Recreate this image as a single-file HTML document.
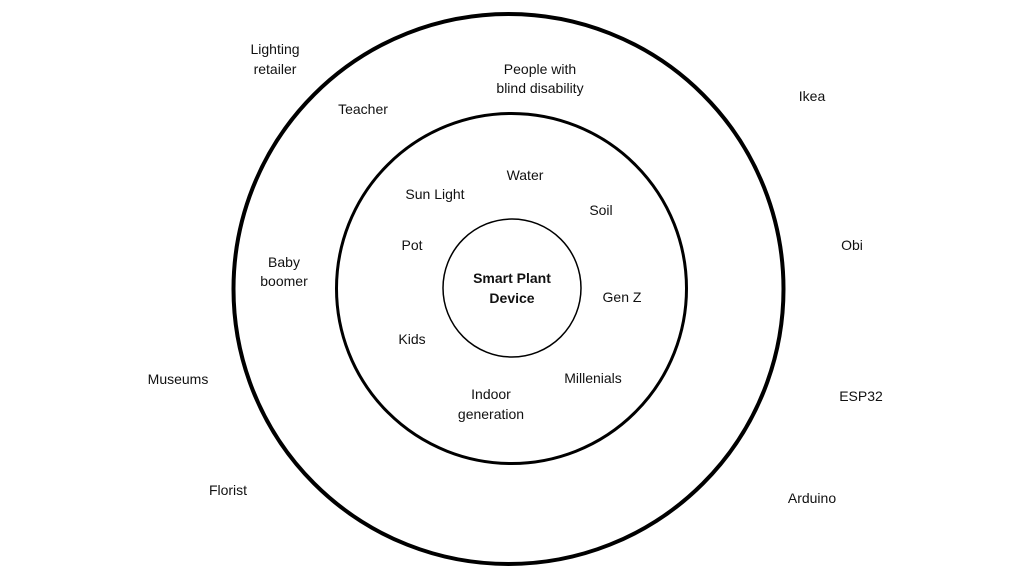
<!DOCTYPE html>
<html><head><meta charset="utf-8"><style>
html,body{margin:0;padding:0;background:#fff;}
svg{display:block;}
text{font-family:"Liberation Sans",sans-serif;font-size:14px;fill:#111;text-anchor:middle;}
</style></head><body>
<svg width="1024" height="576" viewBox="0 0 1024 576">
<rect width="1024" height="576" fill="#fff"/>
<circle cx="508.5" cy="289" r="275" fill="none" stroke="#000" stroke-width="4"/>
<circle cx="511.5" cy="288.5" r="175" fill="none" stroke="#000" stroke-width="3"/>
<circle cx="512" cy="288" r="69" fill="none" stroke="#000" stroke-width="1.5"/>
<text x="512" y="283" font-weight="bold">Smart Plant</text>
<text x="512" y="303" font-weight="bold">Device</text>
<text x="275" y="54">Lighting</text>
<text x="275" y="74">retailer</text>
<text x="540" y="74">People with</text>
<text x="540" y="93">blind disability</text>
<text x="363" y="114">Teacher</text>
<text x="812" y="101">Ikea</text>
<text x="525" y="180">Water</text>
<text x="435" y="199">Sun Light</text>
<text x="601" y="215">Soil</text>
<text x="412" y="250">Pot</text>
<text x="284" y="267">Baby</text>
<text x="284" y="286">boomer</text>
<text x="852" y="250">Obi</text>
<text x="622" y="302">Gen Z</text>
<text x="412" y="344">Kids</text>
<text x="593" y="383">Millenials</text>
<text x="491" y="399">Indoor</text>
<text x="491" y="419">generation</text>
<text x="178" y="384">Museums</text>
<text x="861" y="401">ESP32</text>
<text x="228" y="495">Florist</text>
<text x="812" y="503">Arduino</text>
</svg>
</body></html>
